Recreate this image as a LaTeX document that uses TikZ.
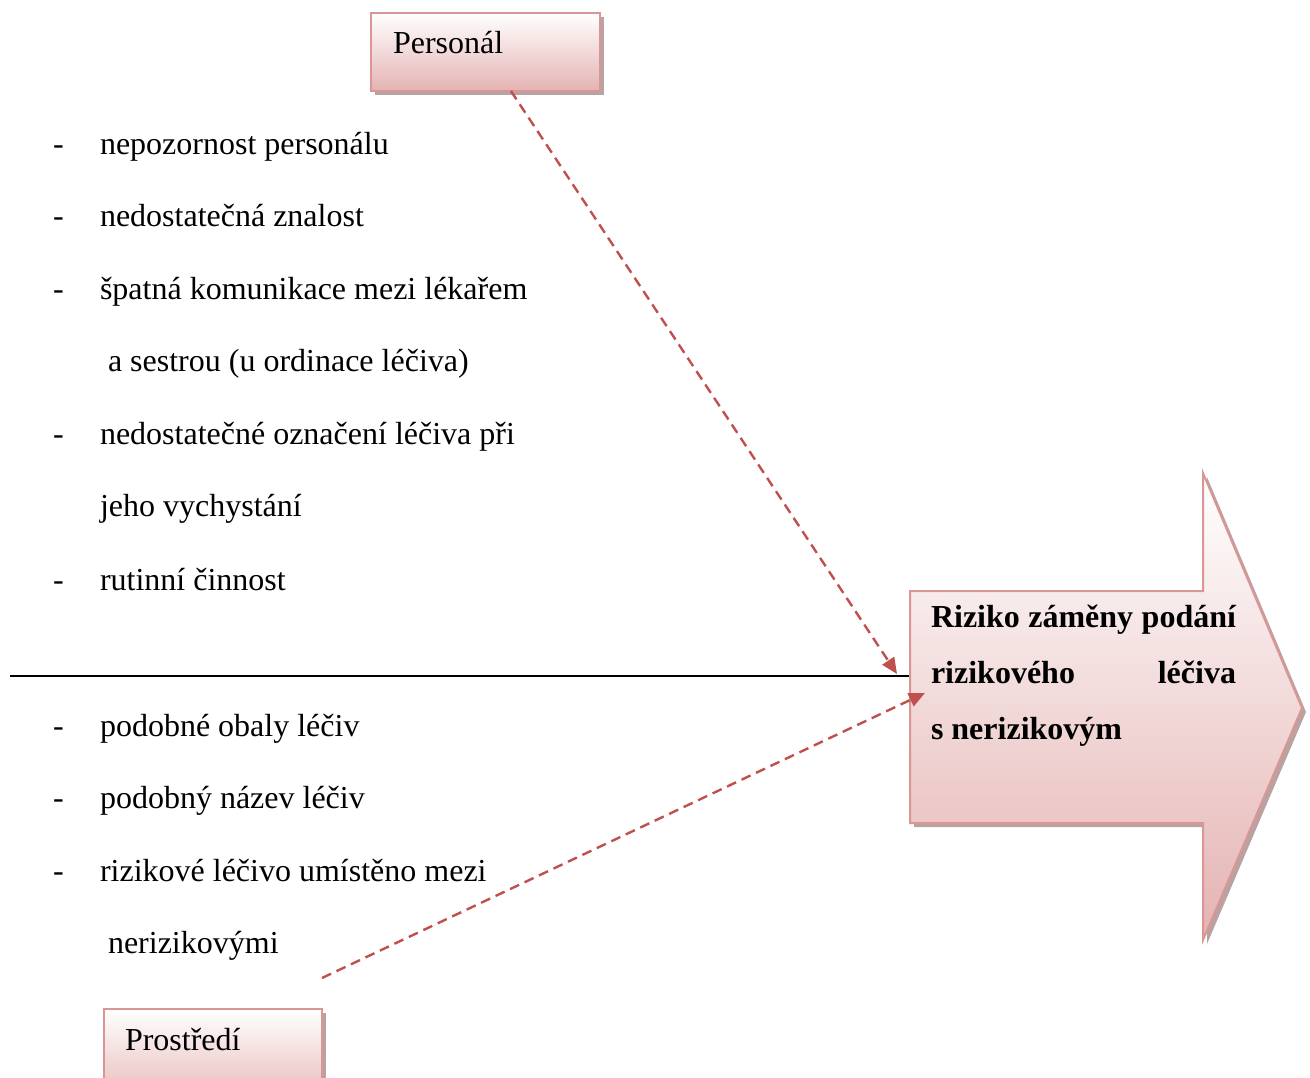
\documentclass[tikz,border=0pt]{standalone}
\usepackage{fontspec}
\setmainfont{Liberation Serif}
\usetikzlibrary{calc,arrows.meta}
\definecolor{edgepink}{HTML}{D99694}
\definecolor{fillpink}{HTML}{E4B3B2}
\definecolor{shadowpink}{HTML}{B9A2A2}
\definecolor{dashred}{HTML}{C0504D}
\begin{document}
\begin{tikzpicture}[x=1pt,y=-1pt,
  every node/.style={inner sep=0pt, outer sep=0pt},
  txt/.style={font=\fontsize{32}{38}\selectfont, anchor=base west},
  btxt/.style={font=\fontsize{32}{38}\selectfont\bfseries, anchor=base west},
  causebox/.style={draw=edgepink, line width=2pt, top color=white, bottom color=fillpink, anchor=north west},
  causeshadow/.style={fill=shadowpink, anchor=north west},
  feed/.style={draw=dashred, dash pattern=on 10pt off 6pt, line width=2.4pt, -{Triangle[length=16pt,width=14pt]}},
]
\useasboundingbox (0,0) rectangle (1310,1077);
\clip (0,0) rectangle (1310,1077);

% cause boxes with drop shadows
\node[causeshadow, minimum width=229pt, minimum height=78pt] (personalShadow) at (375,17) {};
\node[causebox, minimum width=229pt, minimum height=78pt] (personal) at (371,13) {};
\node[txt] (personalText) at (393,53) {Personál};

\node[causeshadow, minimum width=218pt, minimum height=100pt] (environShadow) at (108,1013) {};
\node[causebox, minimum width=218pt, minimum height=100pt] (environ) at (104,1009) {};
\node[txt] (environText) at (125,1050) {Prostředí};

% spine
\coordinate (spineStart) at (10,676);
\coordinate (spineEnd) at (910,676);
\draw[line width=1.8pt] (spineStart) -- (spineEnd);

% effect arrow
\begin{scope}[shift={(4,4)}]
  \fill[shadowpink] (910,591) -- (1203,591) -- (1203,473) -- (1302,708) -- (1203,940) -- (1203,823) -- (910,823) -- cycle;
\end{scope}
\draw[edgepink, line width=2pt, top color=white, bottom color=fillpink]
  (910,591) -- (1203,591) -- (1203,473) -- (1302,708) -- (1203,940) -- (1203,823) -- (910,823) -- cycle;
\node[btxt] (risk1) at (931,627) {\makebox[305pt][s]{Riziko záměny podání}};
\node[btxt] (risk2) at (931,683) {\makebox[305pt][s]{rizikového\hfill léčiva}};
\node[btxt] (risk3) at (931,739) {s nerizikovým};

% causes of the personnel branch
\node[txt] (d1) at (53,154) {-};
\node[txt] (c1) at (100,154) {nepozornost personálu};
\node[txt] (d2) at (53,226) {-};
\node[txt] (c2) at (100,226) {nedostatečná znalost};
\node[txt] (d3) at (53,299) {-};
\node[txt] (c3) at (100,299) {špatná komunikace mezi lékařem};
\node[txt] (c3b) at (108,371) {a sestrou (u ordinace léčiva)};
\node[txt] (d4) at (53,444) {-};
\node[txt] (c4) at (100,444) {nedostatečné označení léčiva při};
\node[txt] (c4b) at (100,516) {jeho vychystání};
\node[txt] (d5) at (53,590) {-};
\node[txt] (c5) at (100,590) {rutinní činnost};

% causes of the environment branch
\node[txt] (d6) at (53,736) {-};
\node[txt] (c6) at (100,736) {podobné obaly léčiv};
\node[txt] (d7) at (53,808) {-};
\node[txt] (c7) at (100,808) {podobný název léčiv};
\node[txt] (d8) at (53,881) {-};
\node[txt] (c8) at (100,881) {rizikové léčivo umístěno mezi};
\node[txt] (c8b) at (108,953) {nerizikovými};

% branch connectors
\coordinate (personalFoot) at ($(personal.south west)!0.611!(personal.south east)$);
\coordinate (hitTop) at (897,674);
\coordinate (environFoot) at (322,978);
\coordinate (hitBottom) at (925,693);
\draw[feed] (personalFoot) -- (hitTop);
\draw[feed] (environFoot) -- (hitBottom);
\end{tikzpicture}
\end{document}
